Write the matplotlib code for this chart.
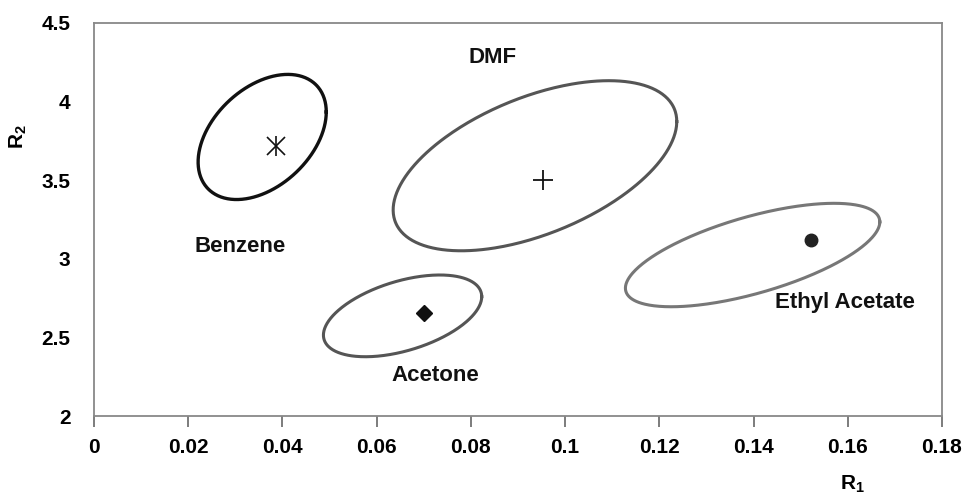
import numpy as np
import matplotlib
matplotlib.use("Agg")
import matplotlib.pyplot as plt

plt.rcParams['font.family'] = ['Liberation Sans', 'DejaVu Sans']
plt.rcParams['font.weight'] = 'bold'
plt.rcParams['mathtext.fontset'] = 'custom'
plt.rcParams['mathtext.rm'] = 'Liberation Sans:bold'
plt.rcParams['mathtext.bf'] = 'Liberation Sans:bold'
plt.rcParams['mathtext.it'] = 'Liberation Sans:bold'

# ---- data ----
solvents = ["Benzene", "DMF", "Ethyl Acetate", "Acetone"]
# point estimates (R1, R2)
point_r1 = [0.0386, 0.0953, 0.1522, 0.0700]
point_r2 = [3.718, 3.501, 3.120, 2.655]
# confidence ellipse: centre, half-extent in R1, half-extent in R2, correlation
ell_cx = [0.0357, 0.0936, 0.1398, 0.0655]
ell_cy = [3.775, 3.592, 3.024, 2.637]
ell_rx = [0.0136, 0.0301, 0.0270, 0.0168]
ell_ry = [0.398, 0.541, 0.329, 0.260]
ell_rho = [0.40, 0.52, 0.64, 0.47]
# label positions
label_x = [0.0310, 0.0845, 0.1594, 0.0724]
label_y = [3.08, 4.28, 2.72, 2.26]
xticks = [0, 0.02, 0.04, 0.06, 0.08, 0.1, 0.12, 0.14, 0.16, 0.18]
xtick_labels = ["0", "0.02", "0.04", "0.06", "0.08", "0.1", "0.12", "0.14", "0.16", "0.18"]
yticks = [2, 2.5, 3, 3.5, 4, 4.5]
ytick_labels = ["2", "2.5", "3", "3.5", "4", "4.5"]

# ---- styles ----
line_colors = ["#111111", "#555555", "#777777", "#555555"]
line_widths = [2.4, 2.2, 2.2, 2.2]

fig = plt.figure(figsize=(9.65, 4.94), dpi=100)
ax = fig.add_axes([94/965, 1-416/494, (942-94)/965, (416-23)/494])

t = np.linspace(0, 2*np.pi, 400)
for i in range(len(solvents)):
    phi = np.arccos(ell_rho[i])
    xs = ell_cx[i] + ell_rx[i]*np.cos(t)
    ys = ell_cy[i] + ell_ry[i]*np.cos(t - phi)
    ax.plot(xs, ys, color=line_colors[i], lw=line_widths[i], solid_joinstyle='round')

# markers
ax.plot(point_r1[0], point_r2[0], marker='x', ms=13, mew=1.2, color='#111111', ls='none')
ax.plot(point_r1[0], point_r2[0], marker='|', ms=14, mew=1.2, color='#111111', ls='none')
ax.plot(point_r1[1], point_r2[1], marker='+', ms=14, mew=1.3, color='#111111', ls='none')
ax.plot(point_r1[2], point_r2[2], marker='o', ms=9, color='#222222', ls='none')
ax.plot(point_r1[3], point_r2[3], marker='D', ms=8, color='#111111', ls='none')

for i in range(len(solvents)):
    ax.text(label_x[i], label_y[i], solvents[i], ha='center', va='center',
            fontsize=16, fontweight='bold', color='#111111')

ax.set_xlim(0, 0.18)
ax.set_ylim(2, 4.5)
ax.set_xticks(xticks)
ax.set_xticklabels(xtick_labels)
ax.set_yticks(yticks)
ax.set_yticklabels(ytick_labels)
ax.tick_params(axis='x', direction='out', length=8, width=1.2, color='#666666',
               labelsize=15, pad=8)
ax.tick_params(axis='y', length=0, labelsize=15, pad=17)
for lab in ax.get_xticklabels() + ax.get_yticklabels():
    lab.set_fontweight('bold')
for s in ax.spines.values():
    s.set_color('#888888')
    s.set_linewidth(1.3)

fig.text(852/965, 1-484/494, r'$\mathbf{R_1}$', ha='center', va='center', fontsize=15)
fig.text(18/965, 1-137/494, r'$\mathbf{R_2}$', ha='center', va='center', fontsize=15, rotation=90)

fig.savefig("out.png", dpi=100, facecolor='white')
